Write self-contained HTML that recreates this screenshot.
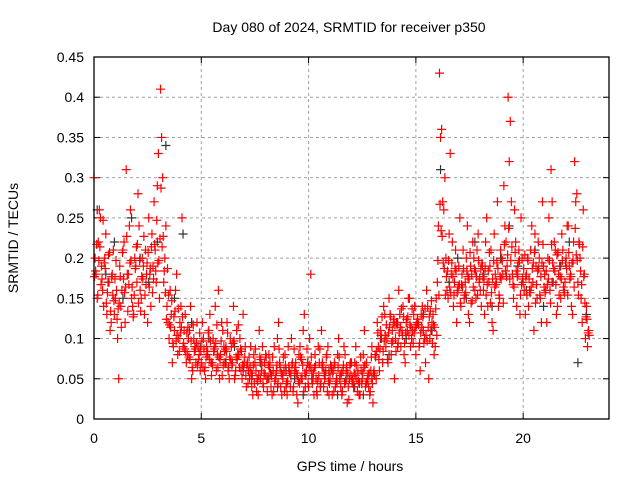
<!DOCTYPE html>
<html><head><meta charset="utf-8"><style>
body{margin:0;background:#fff}
svg{display:block;font-family:"Liberation Sans",sans-serif}
</style></head><body>
<svg id="chart" width="640" height="480">
<text x="349" y="32" font-size="14" text-anchor="middle">Day 080 of 2024, SRMTID for receiver p350</text>
<text transform="translate(18,238) rotate(-90)" font-size="14" text-anchor="middle">SRMTID / TECUs</text>
<text x="350" y="471" font-size="14" text-anchor="middle">GPS time / hours</text>
<g id="grid"></g>
<g id="ticks"></g>
<g id="black"></g>
<g id="red"></g>
<rect x="94" y="57" width="515" height="362" fill="none" stroke="#000" stroke-width="1.3"/>
</svg>
<script>
const xTicks=[0,5,10,15,20];
const yTicks=[0,0.05,0.1,0.15,0.2,0.25,0.3,0.35,0.4,0.45];
const yTickLabels=["0","0.05","0.1","0.15","0.2","0.25","0.3","0.35","0.4","0.45"];
const redStep=0.1, blackStep=0.4, blackStart=0.15;
const redY1=[.30,.18,.22,.25,.16,.20,.13,.17,.12,.21,.15,
.10,.19,.16,.22,.31,.18,.26,.14,.20,.17,
.24,.15,.19,.21,.12,.18,.23,.27,.17,.33,
.41,.30,.20,.14,.10,.13,.09,.16,.08,.12,
.25,.11,.07,.10,.14,.06,.09,.12,.08,.07,
.10,.05,.08,.13,.07,.09,.06,.16,.08,.11,
.07,.12,.05,.09,.14,.06,.08,.10,.05,.07,
.04,.06,.09,.03,.07,.05,.11,.06,.04,.08,
.05,.07,.03,.09,.06,.12,.04,.05,.08,.03,
.06,.10,.04,.07,.02,.09,.05,.13,.06,.04,
.18,.05,.08,.03,.07,.11,.04,.06,.09,.05,
.03,.07,.05,.10,.04,.06,.08,.02,.05,.07,
.04,.09,.06,.03,.05,.11,.07,.04,.06,.02,
.08,.12,.06,.10,.14,.09,.07,.13,.11,.05,
.12,.16,.09,.14,.07,.11,.15,.10,.13,.08,
.12,.06,.14,.10,.16,.05,.11,.13,.09,.17,
.43,.36,.26,.20,.15,.33,.22,.17,.12,.19,
.14,.21,.17,.24,.12,.18,.20,.15,.23,.16,
.19,.13,.25,.17,.21,.11,.18,.27,.15,.20,
.29,.22,.40,.37,.18,.26,.14,.21,.25,.17,
.13,.20,.16,.24,.11,.19,.22,.15,.27,.18,
.12,.25,.31,.17,.21,.14,.19,.23,.16,.20,
.24,.18,.13,.32,.28,.22,.15,.26,.10,.09];
const redY2=[.20,.15,.26,.19,.14,.23,.17,.11,.18,.13,.16,
.05,.14,.21,.12,.18,.24,.15,.13,.19,.28,
.16,.20,.13,.18,.25,.14,.19,.21,.29,.15,
.35,.17,.24,.12,.16,.07,.11,.18,.10,.14,
.09,.13,.08,.11,.05,.10,.07,.09,.06,.12,
.06,.09,.11,.07,.10,.14,.08,.05,.12,.09,
.09,.06,.10,.07,.05,.11,.08,.06,.13,.09,
.07,.05,.04,.08,.06,.03,.05,.09,.07,.05,
.08,.04,.06,.05,.10,.07,.03,.06,.04,.09,
.04,.07,.06,.03,.08,.05,.11,.04,.07,.10,
.06,.03,.05,.09,.04,.07,.05,.08,.03,.06,
.06,.04,.08,.05,.03,.09,.06,.04,.07,.05,
.07,.05,.03,.06,.08,.04,.05,.03,.09,.06,
.05,.09,.11,.07,.13,.10,.15,.08,.12,.10,
.09,.13,.11,.08,.12,.15,.09,.11,.14,.12,
.09,.13,.11,.07,.14,.10,.12,.08,.15,.24,
.35,.27,.30,.16,.23,.18,.14,.21,.16,.25,
.18,.15,.20,.13,.19,.22,.16,.21,.17,.14,
.16,.22,.14,.19,.12,.23,.17,.14,.21,.18,
.24,.19,.32,.27,.15,.22,.18,.13,.20,.16,
.18,.14,.21,.17,.23,.15,.20,.12,.19,.16,
.20,.16,.27,.22,.13,.18,.15,.21,.17,.24,
.19,.14,.22,.27,.17,.20,.12,.18,.14,.11];
const redY3=[.17,.21,.19,.16,.24,.18,.15,.20,.17,.14,.19,
.13,.17,.20,.15,.22,.16,.19,.12,.18,.21,
.19,.17,.22,.16,.20,.18,.15,.21,.24,.19,
.28,.22,.15,.18,.11,.14,.12,.09,.13,.10,
.12,.08,.10,.07,.09,.11,.08,.06,.10,.09,
.08,.07,.10,.09,.06,.08,.11,.07,.09,.06,
.08,.10,.07,.06,.09,.07,.11,.08,.06,.07,
.06,.07,.05,.06,.08,.04,.07,.06,.05,.07,
.06,.05,.07,.04,.06,.08,.05,.07,.06,.04,
.05,.06,.08,.05,.04,.07,.06,.05,.08,.06,
.07,.05,.06,.04,.08,.06,.05,.07,.04,.06,
.05,.06,.04,.07,.05,.06,.04,.05,.06,.04,
.05,.06,.04,.07,.05,.06,.04,.05,.07,.05,
.07,.10,.08,.12,.09,.11,.10,.12,.09,.11,
.11,.10,.13,.12,.10,.12,.11,.13,.10,.11,
.11,.10,.12,.13,.09,.12,.14,.11,.13,.19,
.26,.22,.18,.17,.19,.15,.17,.18,.15,.16,
.16,.18,.15,.17,.20,.14,.18,.17,.19,.18,
.17,.18,.16,.20,.15,.19,.16,.18,.17,.19,
.21,.17,.23,.19,.16,.20,.17,.19,.16,.18,
.17,.19,.15,.18,.20,.16,.18,.17,.21,.15,
.16,.19,.21,.18,.16,.20,.17,.19,.15,.18,
.20,.17,.19,.23,.19,.21,.16,.17,.12,.10];
const redY4=[.19,.16,.22,.18,.20,.15,.21,.14,.16,.18,.13,
.15,.12,.18,.17,.14,.20,.17,.16,.22,.15,
.14,.18,.16,.20,.17,.22,.18,.19,.20,.23,
.22,.19,.13,.16,.12,.10,.14,.11,.09,.12,
.10,.09,.12,.08,.07,.09,.10,.08,.09,.07,
.07,.09,.08,.06,.09,.10,.07,.08,.06,.09,
.09,.07,.08,.10,.06,.08,.07,.09,.07,.06,
.05,.07,.06,.05,.04,.06,.08,.05,.06,.04,
.07,.06,.04,.06,.05,.07,.06,.04,.05,.07,
.06,.04,.07,.06,.05,.08,.04,.06,.05,.07,
.05,.07,.04,.06,.05,.07,.06,.04,.05,.07,
.04,.05,.07,.06,.04,.05,.07,.03,.06,.05,
.06,.04,.05,.05,.07,.05,.06,.04,.05,.06,
.09,.08,.11,.09,.11,.08,.12,.10,.13,.09,
.10,.12,.11,.10,.13,.11,.12,.10,.12,.13,
.10,.12,.10,.11,.12,.14,.10,.12,.11,.16,
.24,.20,.16,.19,.17,.20,.16,.19,.17,.15,
.17,.16,.19,.18,.15,.17,.19,.16,.18,.20,
.18,.16,.19,.15,.18,.17,.20,.16,.18,.15,
.19,.21,.18,.22,.17,.19,.20,.16,.18,.21,
.16,.18,.17,.20,.15,.19,.16,.20,.17,.19,
.18,.15,.20,.19,.21,.16,.18,.17,.20,.16,
.18,.20,.17,.21,.16,.19,.22,.15,.13,.11];
const blackY=[.26,.18,.22,.15,.25,.20,.17,.22,.34,.15,.23,.12,.09,.10,.08,.07,.09,.06,.05,.07,.05,.04,.06,.05,.03,.05,.04,.06,.03,.05,.04,.03,.05,.10,.08,.12,.10,.14,.13,.11,.31,.17,.20,.15,.22,.18,.14,.20,.24,.19,.16,.21,.14,.17,.19,.22,.07,.13];

const L=94,R=609,T=57,B=419,XMAX=24,YMAX=0.45;
const sx=v=>L+v/XMAX*(R-L), sy=v=>B-v/YMAX*(B-T);
const NS="http://www.w3.org/2000/svg";
function mk(tag,attrs,parent){const e=document.createElementNS(NS,tag);for(const k in attrs)e.setAttribute(k,attrs[k]);parent.appendChild(e);return e;}
const grid=document.getElementById('grid'),ticks=document.getElementById('ticks');
xTicks.forEach(v=>{
  const x=sx(v);
  if(v>0){const g=mk('line',{x1:x,x2:x,y1:T,y2:B,stroke:'#a0a0a0','stroke-dasharray':'3,3'},grid);
  
  }
  mk('line',{x1:x,x2:x,y1:B,y2:B-6,stroke:'#000'},ticks);
  mk('line',{x1:x,x2:x,y1:T,y2:T+6,stroke:'#000'},ticks);
  const t=mk('text',{x:x,y:B+24,'font-size':14,'text-anchor':'middle'},ticks);t.textContent=v;
  
  
});
yTicks.forEach((v,i)=>{
  const y=sy(v);
  if(v>0&&i<yTicks.length-1){const g=mk('line',{x1:L,x2:R,y1:y,y2:y,stroke:'#a0a0a0','stroke-dasharray':'3,3'},grid);
  
  }
  mk('line',{x1:L,x2:L+6,y1:y,y2:y,stroke:'#000'},ticks);
  mk('line',{x1:R,x2:R-6,y1:y,y2:y,stroke:'#000'},ticks);
  const t=mk('text',{x:L-10,y:y+5,'font-size':14,'text-anchor':'end'},ticks);t.textContent=yTickLabels[i];
  
  
});
function plus(g,h,v,col){
  const x=sx(h),y=sy(v);
  const p=mk('path',{d:`M${x-4.5} ${y}H${x+4.5}M${x} ${y-4.5}V${y+4.5}`,stroke:col,'stroke-width':1.2,fill:'none'},g);
  
  
}
const bg=document.getElementById('black'),rg=document.getElementById('red');
blackY.forEach((v,i)=>plus(bg,blackStart+i*blackStep,v,'#333'));
redY1.forEach((v,i)=>plus(rg,i*redStep,v,'#ff0000'));
redY2.forEach((v,i)=>plus(rg,i*redStep+0.05,v,'#ff0000'));
redY3.forEach((v,i)=>plus(rg,i*redStep+0.025,v+0.007,'#ff0000'));
redY4.forEach((v,i)=>plus(rg,i*redStep+0.075,v-0.006,'#ff0000'));
</script>
</body></html>
